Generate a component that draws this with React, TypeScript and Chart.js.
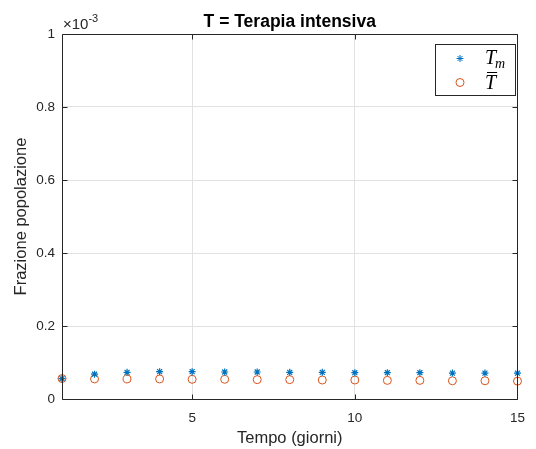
import React, { useEffect, useRef } from "react";
import { Chart, registerables } from "chart.js";

Chart.register(...registerables);

// Values in units of 10^-3
const days = [1, 2, 3, 4, 5, 6, 7, 8, 9, 10, 11, 12, 13, 14, 15];
const tmValues = [0.056, 0.068, 0.073, 0.075, 0.075, 0.074, 0.074, 0.073, 0.073, 0.072, 0.072, 0.072, 0.071, 0.071, 0.071];
const tBarValues = [0.056, 0.055, 0.055, 0.055, 0.054, 0.054, 0.053, 0.053, 0.052, 0.052, 0.051, 0.051, 0.05, 0.05, 0.049];
const xTickValues = [5, 10, 15];
const yTickValues = [0, 0.2, 0.4, 0.6, 0.8, 1];
const yTickLabels = ["0", "0.2", "0.4", "0.6", "0.8", "1"];
const seriesNames = ["T_m", "T\u0304"];
const titleText = "T = Terapia intensiva";
const xLabel = "Tempo (giorni)";
const yLabel = "Frazione popolazione";
const exponentBase = "\u00d710";
const exponentPower = "-3";

const BLUE = "#0072BD";
const ORANGE = "#D95319";
const AXIS = "#262626";
const GRID = "#e1e1e1";
const SANS = '"Liberation Sans", Arial, Helvetica, sans-serif';
const SERIF = '"Liberation Serif", "Times New Roman", serif';

function drawStar(ctx: CanvasRenderingContext2D, x: number, y: number, r: number) {
  ctx.beginPath();
  for (let k = 0; k < 4; k++) {
    const a = (k * Math.PI) / 4;
    ctx.moveTo(x - r * Math.cos(a), y - r * Math.sin(a));
    ctx.lineTo(x + r * Math.cos(a), y + r * Math.sin(a));
  }
  ctx.stroke();
}

const decorPlugin = {
  id: "decor",
  afterDraw(chart: any) {
    const ctx: CanvasRenderingContext2D = chart.ctx;
    const { left, right, top, bottom } = chart.chartArea;
    const xs = chart.scales.x;
    const ys = chart.scales.y;
    ctx.save();
    // box
    ctx.strokeStyle = AXIS;
    ctx.lineWidth = 1;
    const L = Math.round(left) + 0.5;
    const R = Math.round(right) + 0.5;
    const T = Math.round(top) + 0.5;
    const B = Math.round(bottom) + 0.5;
    ctx.beginPath();
    ctx.moveTo(L, T);
    ctx.lineTo(R, T);
    ctx.lineTo(R, B);
    ctx.lineTo(L, B);
    ctx.closePath();
    ctx.stroke();
    // inward ticks
    const tl = 5;
    ctx.beginPath();
    xTickValues.forEach((v) => {
      const px = Math.round(xs.getPixelForValue(v)) + 0.5;
      ctx.moveTo(px, B);
      ctx.lineTo(px, B - tl);
      ctx.moveTo(px, T);
      ctx.lineTo(px, T + tl);
    });
    yTickValues.forEach((v) => {
      const py = Math.round(ys.getPixelForValue(v)) + 0.5;
      ctx.moveTo(L, py);
      ctx.lineTo(L + tl, py);
      ctx.moveTo(R, py);
      ctx.lineTo(R - tl, py);
    });
    ctx.stroke();

    // title
    ctx.fillStyle = "#000";
    ctx.font = `bold 17.5px ${SANS}`;
    ctx.textAlign = "center";
    ctx.textBaseline = "alphabetic";
    ctx.fillText(titleText, (left + right) / 2, 27);

    // exponent
    ctx.fillStyle = AXIS;
    ctx.textAlign = "left";
    ctx.font = `15px ${SANS}`;
    ctx.fillText(exponentBase, left + 1, 29);
    const w = ctx.measureText(exponentBase).width;
    ctx.font = `11px ${SANS}`;
    ctx.fillText(exponentPower, left + 1 + w, 22);

    // legend
    const bx = 435.5, by = 44.5, bw = 80, bh = 51;
    ctx.fillStyle = "#fff";
    ctx.fillRect(bx, by, bw, bh);
    ctx.strokeStyle = AXIS;
    ctx.strokeRect(bx, by, bw, bh);
    ctx.strokeStyle = BLUE;
    ctx.lineWidth = 1;
    drawStar(ctx, 460, 58.5, 3.5);
    ctx.strokeStyle = ORANGE;
    ctx.beginPath();
    ctx.arc(460, 82.5, 4, 0, Math.PI * 2);
    ctx.stroke();

    ctx.fillStyle = "#000";
    ctx.font = `italic 20px ${SERIF}`;
    const [n1, n2] = seriesNames;
    const base1 = n1.split("_")[0];
    const sub1 = n1.split("_")[1];
    ctx.fillText(base1, 485, 64);
    const tw = ctx.measureText(base1).width;
    ctx.font = `italic 14px ${SERIF}`;
    ctx.fillText(sub1, 485 + tw - 1, 67.5);
    ctx.font = `italic 20px ${SERIF}`;
    const base2 = n2.charAt(0);
    ctx.fillText(base2, 485, 88.5);
    const tw2 = ctx.measureText(base2).width;
    ctx.strokeStyle = "#000";
    ctx.beginPath();
    ctx.moveTo(487, 72.5);
    ctx.lineTo(487 + tw2 - 1, 72.5);
    ctx.stroke();
    ctx.restore();
  },
};

export default function App() {
  const ref = useRef<HTMLCanvasElement | null>(null);
  useEffect(() => {
    if (!ref.current) return;
    const chart = new Chart(ref.current, {
      type: "scatter",
      data: {
        datasets: [
          {
            label: seriesNames[0],
            data: days.map((d, i) => ({ x: d, y: tmValues[i] })),
            pointStyle: "star",
            pointRadius: 3.5,
            pointBorderWidth: 1.2,
            borderColor: BLUE,
            backgroundColor: BLUE,
            clip: false,
          } as any,
          {
            label: seriesNames[1],
            data: days.map((d, i) => ({ x: d, y: tBarValues[i] })),
            pointStyle: "circle",
            pointRadius: 4,
            pointBorderWidth: 1,
            borderColor: ORANGE,
            backgroundColor: "rgba(0,0,0,0)",
            clip: false,
          } as any,
        ],
      },
      options: {
        responsive: false,
        animation: false,
        events: [],
        layout: { padding: { top: 34, right: 10, left: 0, bottom: 0 } },
        plugins: {
          legend: { display: false },
          tooltip: { enabled: false },
          title: { display: false },
        },
        scales: {
          x: {
            type: "linear",
            min: 1,
            max: 15,
            afterBuildTicks: (s: any) => {
              s.ticks = xTickValues.map((v) => ({ value: v }));
            },
            afterFit: (s: any) => {
              s.height = 50;
            },
            grid: { color: GRID, drawTicks: false, lineWidth: 1 },
            border: { display: false },
            ticks: {
              color: AXIS,
              padding: 11,
              maxRotation: 0,
              font: { family: SANS, size: 13.5 },
              callback: (v: any) => String(v),
            },
            title: {
              display: true,
              text: xLabel,
              color: AXIS,
              font: { family: SANS, size: 16.5 },
              padding: { top: 0, bottom: 0.5 },
            },
          },
          y: {
            type: "linear",
            min: 0,
            max: 1,
            afterBuildTicks: (s: any) => {
              s.ticks = yTickValues.map((v) => ({ value: v }));
            },
            afterFit: (s: any) => {
              s.width = 62;
            },
            grid: { color: GRID, drawTicks: false, lineWidth: 1 },
            border: { display: false },
            ticks: {
              color: AXIS,
              padding: 7,
              font: { family: SANS, size: 13.5 },
              callback: (v: any) => {
                const i = yTickValues.findIndex((t) => Math.abs(t - Number(v)) < 1e-9);
                return i >= 0 ? yTickLabels[i] : "";
              },
            },
            title: {
              display: true,
              text: yLabel,
              color: AXIS,
              font: { family: SANS, size: 16.5 },
              padding: { top: 12, bottom: 0 },
            },
          },
        },
      },
      plugins: [decorPlugin],
    } as any);
    return () => chart.destroy();
  }, []);
  return (
    <div style={{ position: "absolute", left: 0, top: 0, width: 536, height: 449, background: "#fff" }}>
      <canvas ref={ref} width={536} height={449} style={{ display: "block", width: 536, height: 449 }} />
    </div>
  );
}
